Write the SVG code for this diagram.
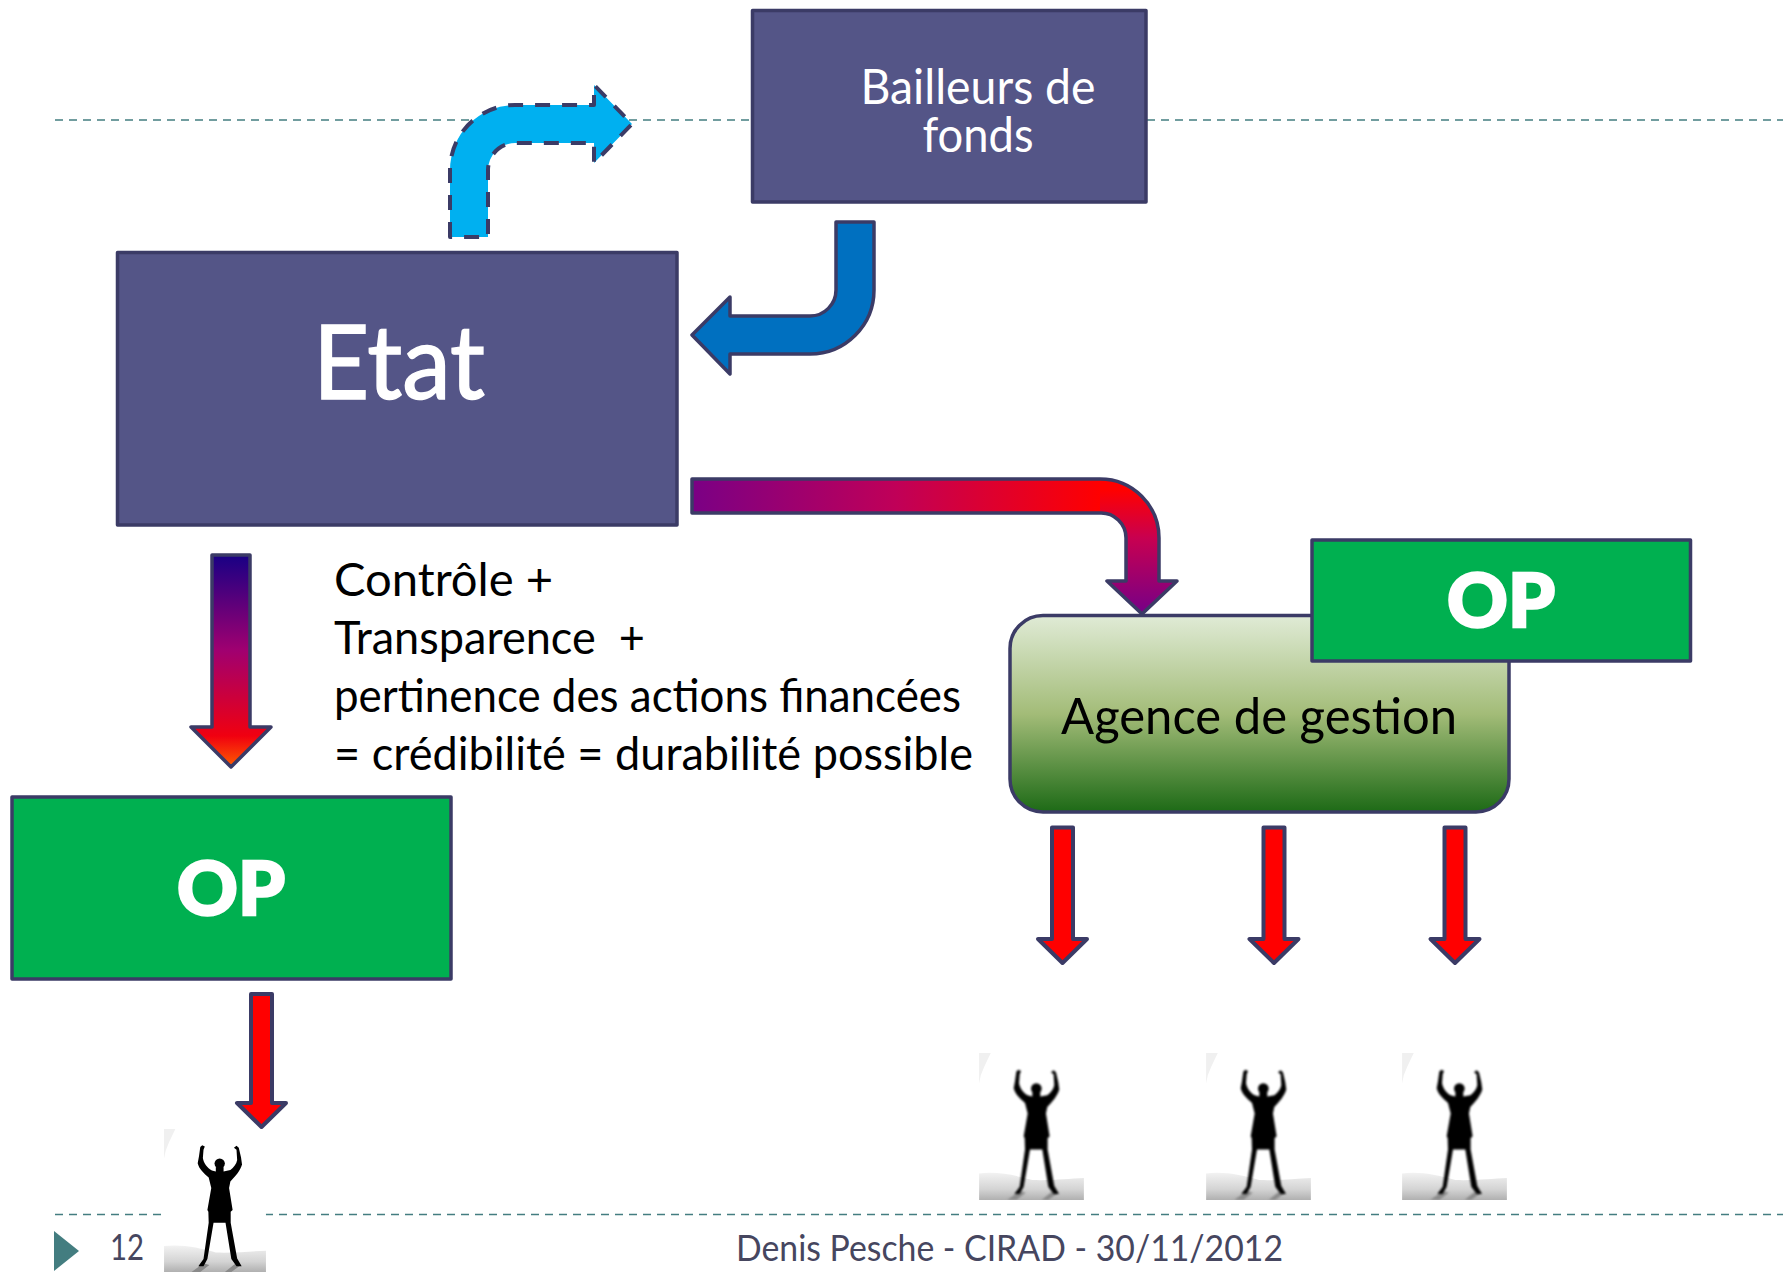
<svg xmlns="http://www.w3.org/2000/svg" width="1783" height="1272" viewBox="0 0 1783 1272">
<style>
.box{fill:#545587;stroke:#3b3b66;stroke-width:3.5;stroke-linejoin:round}
.op{fill:#00b050;stroke:#3b3b66;stroke-width:3.5;stroke-linejoin:round}
.arr{stroke:#3b3b66;stroke-width:3.5;stroke-linejoin:round}
.red{fill:#ff0000;stroke:#3b3b66;stroke-width:4;stroke-linejoin:round}
.guide{stroke:#437d80;stroke-width:1.6;stroke-dasharray:8 6;fill:none}
text{font-family:"Lato","Open Sans","Liberation Sans",sans-serif}
.w{fill:#fff}
.k{fill:#000;font-size:46px}
.opt{fill:#fff;font-size:74px;font-weight:900;stroke:#fff;stroke-width:2.5}
.foot{fill:#46465f;font-size:36px}
</style>
<defs>
<linearGradient id="gDown" x1="0" y1="554" x2="0" y2="768" gradientUnits="userSpaceOnUse">
<stop offset="0" stop-color="#170085"/><stop offset="0.45" stop-color="#a00070"/><stop offset="0.85" stop-color="#f00010"/><stop offset="1" stop-color="#ff6000"/>
</linearGradient>
<linearGradient id="gH" x1="691" y1="0" x2="1100" y2="0" gradientUnits="userSpaceOnUse">
<stop offset="0" stop-color="#7a0085"/><stop offset="0.5" stop-color="#c00058"/><stop offset="1" stop-color="#ff0000"/>
</linearGradient>
<linearGradient id="gV" x1="0" y1="490" x2="0" y2="610" gradientUnits="userSpaceOnUse">
<stop offset="0" stop-color="#ff0000"/><stop offset="0.4" stop-color="#c80050"/><stop offset="1" stop-color="#7a0085"/>
</linearGradient>
<linearGradient id="gAg" x1="0" y1="0" x2="0" y2="1">
<stop offset="0" stop-color="#e0ebd6"/><stop offset="0.5" stop-color="#a3bc78"/><stop offset="1" stop-color="#1d6a16"/>
</linearGradient>
<linearGradient id="gGround" x1="0" y1="0" x2="0" y2="1">
<stop offset="0" stop-color="#f2f2f2"/><stop offset="0.6" stop-color="#d4d4d4"/><stop offset="1" stop-color="#b0b0b0"/>
</linearGradient>
<clipPath id="cL"><rect x="680" y="470" width="420" height="60"/></clipPath>
<clipPath id="cR"><rect x="1100" y="470" width="90" height="150"/></clipPath>
<clipPath id="cImg"><rect x="0" y="0" width="315" height="442"/></clipPath>
<filter id="soft" x="-10%" y="-10%" width="120%" height="120%"><feGaussianBlur stdDeviation="2.4"/></filter>
<symbol id="person" viewBox="0 0 315 442" overflow="hidden">
<rect width="315" height="442" fill="#fff"/>
<path d="M0 0H35L15 42L5 67L0 92Z" fill="#f0f0f0"/>
<g clip-path="url(#cImg)">
<path d="M0 362C60 356 110 368 160 382C220 384 270 378 315 376V442H0Z" fill="url(#gGround)"/>
<path d="M85 442L122 415L140 420L112 442ZM188 442L218 418L238 420L208 442Z" fill="#8a8a8a" filter="url(#soft)"/>
<g filter="url(#soft)" fill="#000">
<circle cx="172" cy="107" r="16"/>
<path d="M112 56L118 50L126 54L122 64L120 90C122 105 134 122 148 128L160 131V118H184V131L205 127C215 120 224 108 226 96L224 64L216 58L224 52L231 58L238 88L241 110C236 128 220 148 205 162L201 182L212 250L206 256L206 290L226 400L240 424L224 424L208 402L190 290L153 290L134 402L122 424L106 424L122 402L138 290L137 256L134 250L146 182L138 150C124 138 108 124 104 106L108 84Z"/>
</g>
</g>
</symbol>
</defs>

<g id="guides">
<path class="guide" d="M55 120H1783"/>
<path class="guide" d="M55 1214.5H1783"/>
</g>

<g id="connectors">
<path d="M450 237V170A65 65 0 0 1 515 105H594V85L632 124L594 163V143H515A27 27 0 0 0 488 170V237Z" fill="#00b0f0" stroke="#3b3b66" stroke-width="4" stroke-dasharray="15 12" stroke-linejoin="round"/>
<path class="arr" fill="#0070c0" d="M836 222V290A26 26 0 0 1 810 316H730V297L692 335L730 374V354H810A64 64 0 0 0 874 290V222Z"/>
<path fill="url(#gH)" clip-path="url(#cL)" d="M692 479H1100A59 59 0 0 1 1159 538V581H1177L1142 614L1107 581H1126V538A25 25 0 0 0 1100 513H692Z"/>
<path fill="url(#gV)" clip-path="url(#cR)" d="M692 479H1100A59 59 0 0 1 1159 538V581H1177L1142 614L1107 581H1126V538A25 25 0 0 0 1100 513H692Z"/>
<path class="arr" fill="none" d="M692 479H1100A59 59 0 0 1 1159 538V581H1177L1142 614L1107 581H1126V538A25 25 0 0 0 1100 513H692Z"/>
<path class="arr" fill="url(#gDown)" d="M212 555H250V727H271L231 767L191 727H212Z"/>
<path class="red" d="M1052 827.5H1073V939H1087L1062.5 963L1038 939H1052Z"/>
<path class="red" d="M1263.5 827.5H1284.5V939H1298.5L1274 963L1249.5 939H1263.5Z"/>
<path class="red" d="M1444.5 827.5H1465.5V939H1479.5L1455 963L1430.5 939H1444.5Z"/>
<path class="red" d="M251 994H272V1103H286L261.5 1127L237 1103H251Z"/>
</g>

<g id="node-bailleurs">
<rect class="box" x="752.5" y="10.5" width="393.5" height="191.5"/>
<text class="w" x="978" y="104" font-size="48" text-anchor="middle" textLength="235" lengthAdjust="spacingAndGlyphs">Bailleurs de</text>
<text class="w" x="978" y="152" font-size="48" text-anchor="middle" textLength="111" lengthAdjust="spacingAndGlyphs">fonds</text>
</g>
<g id="node-etat">
<rect class="box" x="117.5" y="252.5" width="559.5" height="272.5"/>
<text class="w" x="399" y="399" font-size="102" text-anchor="middle" stroke="#fff" stroke-width="1.5" textLength="172" lengthAdjust="spacingAndGlyphs">Etat</text>
</g>
<g id="node-label">
<text class="k" x="334" y="596" textLength="219" lengthAdjust="spacingAndGlyphs">Contrôle +</text>
<text class="k" x="334" y="654" xml:space="preserve" textLength="311" lengthAdjust="spacingAndGlyphs">Transparence  +</text>
<text class="k" x="334" y="712" textLength="627" lengthAdjust="spacingAndGlyphs">pertinence des actions financées</text>
<text class="k" x="334" y="770" textLength="639" lengthAdjust="spacingAndGlyphs">= crédibilité = durabilité possible</text>
</g>
<g id="node-agence">
<rect x="1010" y="615.5" width="499" height="196.5" rx="33" fill="url(#gAg)" stroke="#3b3b66" stroke-width="3.5"/>
<text x="1259" y="734" font-size="50" fill="#000" text-anchor="middle" textLength="396" lengthAdjust="spacingAndGlyphs">Agence de gestion</text>
</g>
<g id="node-op-right">
<rect class="op" x="1312" y="540" width="378.5" height="121"/>
<text class="opt" x="1501" y="627" text-anchor="middle" textLength="108" lengthAdjust="spacingAndGlyphs">OP</text>
</g>
<g id="node-op-left">
<rect class="op" x="12" y="797" width="439" height="182"/>
<text class="opt" x="231" y="915" text-anchor="middle" textLength="108" lengthAdjust="spacingAndGlyphs">OP</text>
</g>
<g id="node-person-1"><use href="#person" x="979" y="1053" width="105" height="147"/></g>
<g id="node-person-2"><use href="#person" x="1206" y="1053" width="105" height="147"/></g>
<g id="node-person-3"><use href="#person" x="1402" y="1053" width="105" height="147"/></g>
<g id="node-person-4"><use href="#person" x="163" y="1129" width="104" height="143"/></g>

<g id="footer">
<path d="M54 1231L79 1251L54 1271Z" fill="#437d80"/>
<text class="foot" x="110" y="1260" textLength="34" lengthAdjust="spacingAndGlyphs">12</text>
<text class="foot" x="736" y="1261" textLength="547" lengthAdjust="spacingAndGlyphs">Denis Pesche - CIRAD - 30/11/2012</text>
</g>
</svg>
